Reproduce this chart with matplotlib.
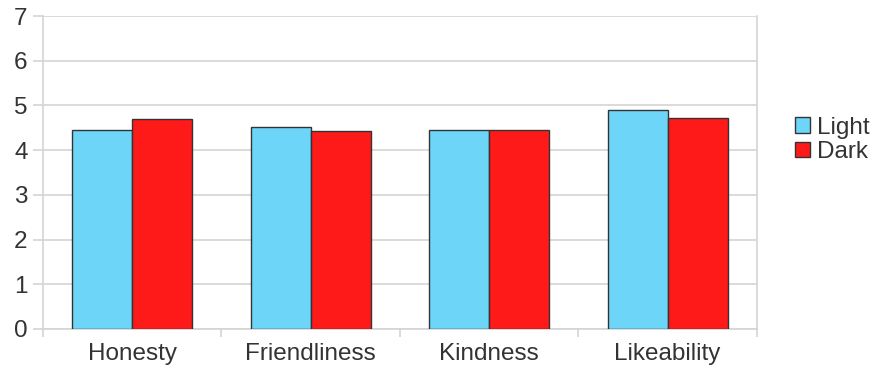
import numpy as np
import matplotlib.pyplot as plt
from matplotlib.ticker import FixedLocator

plt.rcParams['font.family'] = ['Liberation Sans', 'DejaVu Sans']

categories = ["Honesty", "Friendliness", "Kindness", "Likeability"]
light = [4.45, 4.52, 4.45, 4.90]
dark = [4.70, 4.43, 4.46, 4.72]

fig = plt.figure(figsize=(8.76, 3.73), dpi=100)
ax = fig.add_axes([0.049, 0.118, 0.815, 0.839])

x = np.arange(len(categories))
w = 0.336
grey = "#d4d4d4"
txt = "#333333"
ax.bar(x - w / 2, light, w, color="#6dd5f8", edgecolor="#333333", linewidth=1.0, label="Light", zorder=3)
ax.bar(x + w / 2, dark, w, color="#ff1a1a", edgecolor="#333333", linewidth=1.0, label="Dark", zorder=3)

ax.set_xlim(-0.5, len(categories) - 0.5)
ax.set_ylim(0, 7)
ax.set_yticks(range(8))
ax.yaxis.grid(True, color=grey, linewidth=1.2, zorder=0)
ax.set_xticks(x)
ax.set_xticklabels(categories)
ax.xaxis.set_minor_locator(FixedLocator(np.arange(-0.5, len(categories), 1)))
ax.tick_params(axis="x", which="major", length=0, pad=10, labelsize=17.5, colors=txt)
ax.tick_params(axis="x", which="minor", length=6, width=1.2, color=grey)
ax.tick_params(axis="y", length=7, width=1.2, color=grey, labelsize=17.5, labelcolor=txt, pad=4)

for side in ["left", "bottom", "right"]:
    ax.spines[side].set_color(grey)
    ax.spines[side].set_linewidth(1.2)
ax.spines["top"].set_visible(False)

leg = ax.legend(loc="upper left", bbox_to_anchor=(1.04, 0.71), frameon=False, fontsize=17.5,
                handlelength=0.6, handleheight=0.6, handletextpad=0.3, labelspacing=0.1,
                borderaxespad=0)
for t in leg.get_texts():
    t.set_color(txt)

fig.savefig("out.png", dpi=100)
